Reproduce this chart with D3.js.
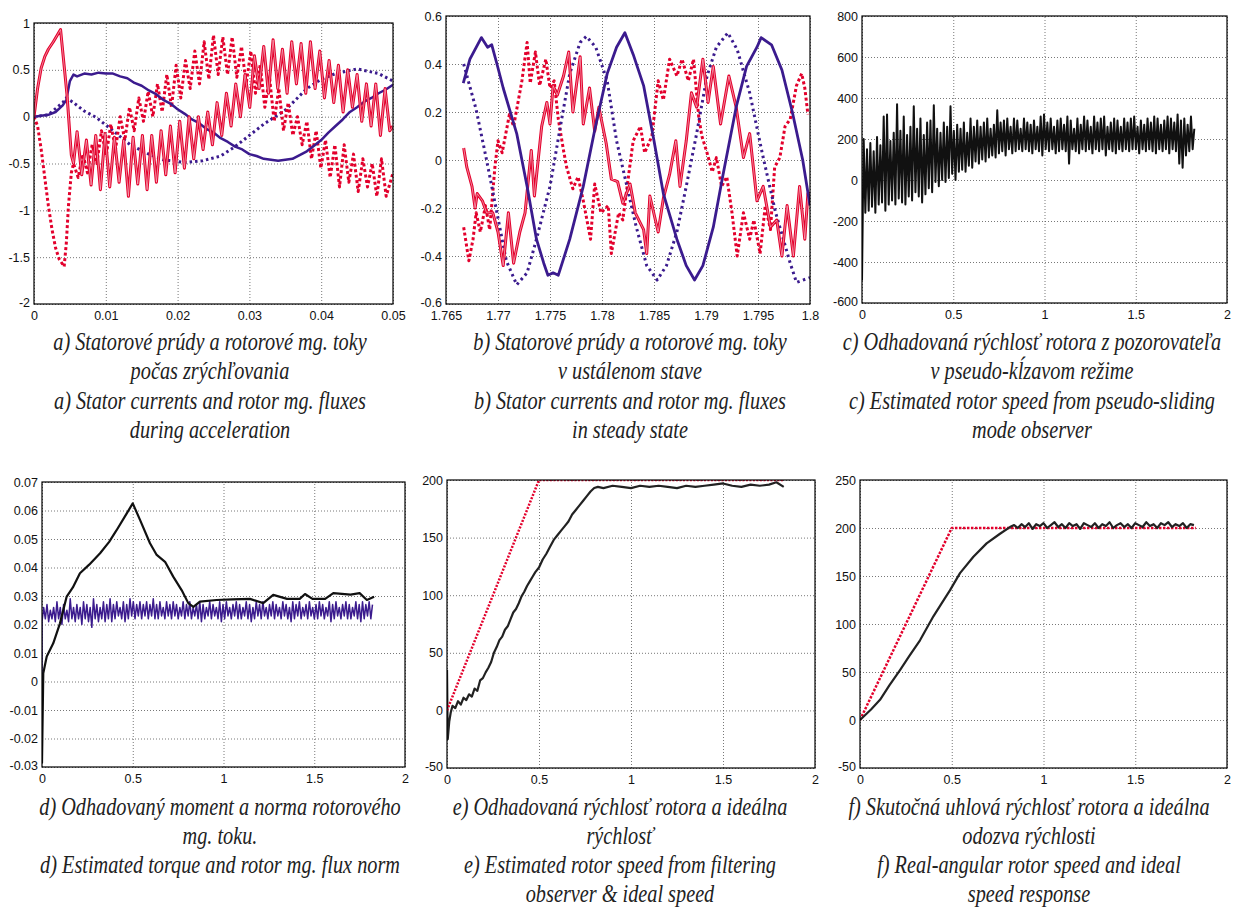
<!DOCTYPE html>
<html>
<head>
<meta charset="utf-8">
<script src="https://cdn.jsdelivr.net/npm/d3@7"></script>
<style>
  body { margin: 0; background: #fff; }
  .tick text { font-family: "Liberation Sans", Arial, sans-serif; font-size: 12.5px; fill: #111; }
</style>
</head>
<body>
<div id="chart"></div>
<script>
// ---------- panel a: stator currents / rotor fluxes during acceleration ----------
const aXTicks = [0, 0.01, 0.02, 0.03, 0.04, 0.05];
const aYTicks = [-2, -1.5, -1, -0.5, 0, 0.5, 1];
const aCurAHead = [[0,0],[0.0005,0.3],[0.001,0.52],[0.0015,0.64],[0.002,0.72],[0.0027,0.8],[0.0037,0.93],[0.0046,0.23],[0.0052,-0.41],[0.0055,-0.5]];
const aCurAStart = 0.006, aCurAStep = 0.00065;
const aCurAOsc = [-0.16,-0.62,-0.25,-0.73,-0.2,-0.78,-0.18,-0.75,-0.22,-0.7,-0.25,-0.85,-0.22,-0.72,-0.2,-0.78,-0.2,-0.7,-0.15,-0.62,-0.1,-0.6,-0.05,-0.55,0.0,
  -0.45,0.0,-0.35,0.05,-0.3,0.15,-0.2,0.25,-0.1,0.35,0.0,0.45,0.1,0.65,0.3,0.75,0.25,0.82,0.3,0.72,0.25,0.8,0.35,0.78,0.25,0.8,0.3,
  0.7,0.2,0.6,0.15,0.55,0.05,0.5,0.1,0.45,-0.05,0.35,-0.1,0.35,-0.2,0.3,-0.15];
const aCurATail = [[0.05,-0.1]];
const aCurBHead = [[0,0],[0.0005,-0.1],[0.001,-0.35],[0.0015,-0.65],[0.002,-0.95],[0.0025,-1.2],[0.003,-1.4],[0.0035,-1.52],[0.0042,-1.6],[0.0045,-1.35],[0.0048,-0.95],[0.0052,-0.6]];
const aCurBStart = 0.0055, aCurBStep = 0.00065;
const aCurBOsc = [-0.5,-0.65,-0.4,-0.6,-0.3,-0.5,-0.15,-0.42,-0.08,-0.35,0.0,-0.25,0.1,-0.15,0.2,-0.05,0.27,0.0,0.35,0.05,0.45,0.1,0.55,0.2,0.6,0.3,
  0.7,0.35,0.8,0.4,0.87,0.45,0.85,0.45,0.85,0.42,0.75,0.35,0.7,0.25,0.55,0.1,0.42,-0.05,0.3,-0.15,0.15,-0.2,0.0,-0.3,-0.05,-0.45,
  -0.15,-0.55,-0.25,-0.65,-0.3,-0.75,-0.3,-0.7,-0.4,-0.8,-0.45,-0.75,-0.5,-0.85,-0.45,-0.85];
const aCurBTail = [[0.05,-0.6]];
const aFluxA = [[0,0],[0.001,0.01],[0.002,0.02],[0.003,0.05],[0.004,0.12],[0.0045,0.18],[0.005,0.38],[0.0055,0.45],[0.006,0.43],[0.007,0.46],[0.008,0.45],
  [0.009,0.47],[0.010,0.46],[0.011,0.46],[0.012,0.43],[0.013,0.41],[0.014,0.36],[0.015,0.33],[0.016,0.28],[0.017,0.24],[0.018,0.18],[0.019,0.14],
  [0.020,0.08],[0.021,0.03],[0.022,-0.03],[0.023,-0.07],[0.024,-0.13],[0.025,-0.17],[0.026,-0.23],[0.027,-0.27],[0.028,-0.32],[0.029,-0.35],
  [0.030,-0.40],[0.031,-0.42],[0.032,-0.45],[0.033,-0.46],[0.034,-0.47],[0.035,-0.46],[0.036,-0.45],[0.037,-0.41],[0.038,-0.37],[0.039,-0.31],
  [0.040,-0.25],[0.041,-0.17],[0.042,-0.10],[0.043,-0.03],[0.044,0.05],[0.045,0.10],[0.046,0.16],[0.047,0.20],[0.048,0.25],[0.049,0.29],[0.05,0.34]];
const aFluxB = [[0,0],[0.002,0.02],[0.004,0.15],[0.0045,0.2],[0.0055,0.15],[0.007,0.06],[0.0087,-0.01],[0.011,-0.15],[0.0134,-0.3],[0.016,-0.4],
  [0.018,-0.46],[0.021,-0.49],[0.0235,-0.47],[0.026,-0.42],[0.028,-0.32],[0.030,-0.2],[0.032,-0.08],[0.035,0.07],[0.038,0.3],[0.040,0.4],
  [0.042,0.46],[0.045,0.51],[0.048,0.46],[0.05,0.38]];

// ---------- panel b: steady state ----------
const bXTicks = [1.765, 1.77, 1.775, 1.78, 1.785, 1.79, 1.795, 1.8];
const bYTicks = [-0.6, -0.4, -0.2, 0, 0.2, 0.4, 0.6];
const bFluxA = [[1.76666,0.32],[1.7673,0.42],[1.7684,0.51],[1.769,0.47],[1.7694,0.48],[1.7699,0.40],[1.7705,0.30],[1.7718,0.11],[1.7728,-0.11],
  [1.7737,-0.33],[1.7744,-0.43],[1.7748,-0.48],[1.7753,-0.47],[1.7758,-0.48],[1.7769,-0.33],[1.7782,-0.11],[1.7793,0.125],[1.7805,0.36],
  [1.7814,0.47],[1.7822,0.53],[1.783,0.44],[1.784,0.31],[1.785,0.08],[1.7859,-0.14],[1.7872,-0.33],[1.7881,-0.44],[1.7889,-0.5],[1.7897,-0.44],
  [1.7907,-0.28],[1.7916,-0.07],[1.7929,0.22],[1.7939,0.39],[1.7949,0.47],[1.7953,0.51],[1.7963,0.48],[1.7973,0.375],[1.7983,0.2],[1.7993,0.0],[1.8,-0.19]];
const bFluxB = [[1.7667,0.4],[1.7679,0.21],[1.7689,0.0],[1.7699,-0.22],[1.7708,-0.42],[1.7718,-0.52],[1.7728,-0.47],[1.7737,-0.33],[1.775,-0.11],
  [1.776,0.14],[1.7769,0.36],[1.7779,0.49],[1.7785,0.515],[1.7794,0.47],[1.7805,0.33],[1.7814,0.08],[1.7824,-0.11],[1.7833,-0.28],[1.7843,-0.44],
  [1.7853,-0.5],[1.7862,-0.44],[1.7872,-0.3],[1.7881,-0.11],[1.7891,0.11],[1.7901,0.35],[1.791,0.47],[1.7921,0.53],[1.793,0.46],[1.7942,0.28],
  [1.7954,0.03],[1.7967,-0.22],[1.7981,-0.43],[1.7987,-0.51],[1.8,-0.49]];
const bCurA = [[1.7667,0.05],[1.767,-0.03],[1.7675,-0.11],[1.7678,-0.2],[1.768,-0.14],[1.7685,-0.17],[1.7689,-0.22],[1.7695,-0.22],[1.77,-0.3],
  [1.7705,-0.44],[1.771,-0.22],[1.7715,-0.43],[1.7721,-0.3],[1.7726,-0.22],[1.7732,0.04],[1.7735,-0.15],[1.7742,0.14],[1.7747,0.24],[1.775,0.15],
  [1.7753,0.31],[1.7757,0.27],[1.7763,0.35],[1.7768,0.45],[1.7772,0.2],[1.7779,0.43],[1.7782,0.15],[1.7788,0.3],[1.7793,0.12],[1.7797,0.22],
  [1.7804,0.07],[1.7809,-0.08],[1.7815,-0.09],[1.782,-0.18],[1.7827,-0.1],[1.7832,-0.22],[1.784,-0.29],[1.7843,-0.39],[1.7846,-0.15],[1.7854,-0.3],
  [1.7859,-0.16],[1.7865,-0.06],[1.7871,0.08],[1.7875,-0.11],[1.7881,0.08],[1.7886,0.28],[1.7891,0.22],[1.7897,0.42],[1.7902,0.24],[1.7907,0.39],
  [1.7914,0.15],[1.7922,0.35],[1.7929,0.22],[1.7936,0.01],[1.7942,0.11],[1.7949,-0.17],[1.7955,-0.11],[1.7962,-0.28],[1.7968,-0.25],[1.7973,-0.4],
  [1.7978,-0.19],[1.7984,-0.4],[1.799,-0.11],[1.7995,-0.33],[1.7998,-0.14],[1.8,-0.14]];
const bCurB = [[1.7667,-0.28],[1.7672,-0.42],[1.7676,-0.33],[1.7679,-0.22],[1.7683,-0.3],[1.7688,-0.19],[1.7692,-0.29],[1.7697,-0.03],[1.77,0.08],
  [1.7704,0.03],[1.7711,0.19],[1.7715,0.14],[1.7723,0.33],[1.7728,0.49],[1.7731,0.32],[1.7736,0.45],[1.774,0.31],[1.7746,0.42],[1.775,0.3],
  [1.7754,0.33],[1.7758,0.17],[1.7763,0.04],[1.7766,-0.03],[1.7772,-0.12],[1.7777,-0.07],[1.7782,-0.17],[1.7789,-0.33],[1.7793,-0.1],[1.7799,-0.22],
  [1.7806,-0.19],[1.7809,-0.39],[1.7816,-0.22],[1.782,-0.25],[1.7826,-0.05],[1.783,0.08],[1.7837,0.14],[1.7841,0.03],[1.7848,0.1],[1.7854,0.33],
  [1.7859,0.25],[1.7865,0.42],[1.7872,0.35],[1.7877,0.42],[1.7883,0.33],[1.7888,0.42],[1.7893,0.18],[1.7896,0.1],[1.7901,0.03],[1.7906,-0.05],
  [1.791,0.01],[1.7915,-0.11],[1.792,-0.07],[1.7925,-0.22],[1.793,-0.4],[1.7936,-0.22],[1.7942,-0.33],[1.7946,-0.25],[1.7952,-0.39],[1.7957,-0.19],
  [1.7962,-0.29],[1.7966,-0.03],[1.7971,0.01],[1.7976,0.14],[1.7981,0.17],[1.7987,0.31],[1.7992,0.36],[1.7995,0.3],[1.7998,0.19]];

// ---------- panel c: estimated speed, pseudo-sliding observer (upper / lower noise peaks) ----------
const cXTicks = [0, 0.5, 1, 1.5, 2];
const cYTicks = [-600, -400, -200, 0, 200, 400, 600, 800];
const cStep = 0.0183;
const cHigh = [200,150,180,140,210,170,310,320,190,230, 370,240,310,220,260,360,250,300,220,280,
  290,365,250,230,280,260,360,240,270,250, 280,230,300,260,290,260,280,300,250,270,
  340,280,290,300,260,300,290,250,300,280, 270,290,260,310,320,280,300,260,290,300,
  270,310,290,250,300,270,310,290,260,310, 280,300,310,260,280,300,290,260,300,280,
  300,310,260,290,270,300,280,310,300,270, 290,310,300,280,320,290,300,270,310,250];
const cLow = [-490,-160,-150,-130,-160,-120,-110,-150,-120,-100, -120,-90,-110,-120,-80,-100,-60,-80,-110,-70,
  -40,-60,-10,-30,0,-10,10,30,0,40, 50,40,70,60,90,80,100,90,110,120,
  110,130,140,120,150,130,140,150,140,150, 140,130,150,140,120,150,140,150,130,140,
  150,140,80,150,140,130,150,140,150,130, 150,140,150,120,150,140,130,150,140,150,
  140,150,150,130,150,140,150,140,130,150, 140,150,130,150,140,80,60,120,140,150];

// ---------- panel d: torque and flux norm ----------
const dXTicks = [0, 0.5, 1, 1.5, 2];
const dYTicks = [-0.03, -0.02, -0.01, 0, 0.01, 0.02, 0.03, 0.04, 0.05, 0.06, 0.07];
const dTorque = [[0,-0.0286],[0.007,0.0029],[0.026,0.0088],[0.062,0.0134],[0.099,0.0204],[0.136,0.0298],[0.17,0.033],[0.209,0.038],[0.26,0.041],
  [0.32,0.045],[0.37,0.049],[0.41,0.053],[0.467,0.059],[0.5,0.0625],[0.54,0.0567],[0.595,0.0485],[0.632,0.0444],[0.678,0.042],[0.723,0.0368],
  [0.77,0.032],[0.806,0.0275],[0.834,0.0262],[0.87,0.028],[0.962,0.0286],[1.05,0.0288],[1.146,0.029],[1.219,0.0275],[1.274,0.0304],[1.35,0.029],
  [1.42,0.029],[1.449,0.0307],[1.49,0.029],[1.56,0.029],[1.605,0.031],[1.7,0.0305],[1.75,0.031],[1.79,0.0286],[1.83,0.0297]];
const dStep = 0.0183;
const dFluxHigh = [0.026,0.027,0.025,0.026,0.028,0.026,0.027,0.025,0.029,0.026, 0.027,0.026,0.028,0.027,0.026,0.029,0.027,0.026,0.028,0.027,
  0.029,0.027,0.028,0.026,0.028,0.027,0.029,0.028,0.027,0.028, 0.027,0.028,0.027,0.029,0.027,0.028,0.026,0.028,0.027,0.028,
  0.027,0.026,0.028,0.027,0.028,0.026,0.027,0.028,0.027,0.026, 0.028,0.027,0.026,0.028,0.027,0.028,0.026,0.027,0.028,0.027,
  0.026,0.028,0.027,0.026,0.028,0.027,0.028,0.026,0.027,0.028, 0.027,0.026,0.028,0.027,0.026,0.028,0.027,0.028,0.026,0.027,
  0.028,0.026,0.027,0.028,0.027,0.026,0.028,0.027,0.028,0.026, 0.027,0.028,0.027,0.026,0.028,0.027,0.028,0.027,0.028,0.027];
const dFluxLow = [0.021,0.022,0.021,0.022,0.021,0.022,0.020,0.022,0.021,0.022, 0.021,0.022,0.020,0.022,0.021,0.019,0.022,0.021,0.022,0.021,
  0.022,0.021,0.022,0.023,0.022,0.021,0.022,0.023,0.022,0.023, 0.022,0.023,0.022,0.023,0.022,0.022,0.023,0.022,0.023,0.022,
  0.023,0.022,0.023,0.022,0.023,0.022,0.023,0.022,0.021,0.022, 0.023,0.022,0.023,0.022,0.021,0.022,0.023,0.022,0.023,0.022,
  0.022,0.023,0.022,0.021,0.022,0.023,0.022,0.023,0.022,0.023, 0.022,0.023,0.022,0.023,0.022,0.021,0.022,0.023,0.022,0.023,
  0.022,0.023,0.022,0.022,0.023,0.022,0.023,0.021,0.022,0.023, 0.022,0.023,0.022,0.022,0.023,0.022,0.021,0.022,0.023,0.022];

// ---------- panel e: estimated speed (filtering observer) and ideal speed ----------
const eXTicks = [0, 0.5, 1, 1.5, 2];
const eYTicks = [-50, 0, 50, 100, 150, 200];
const eIdeal = [[0,0],[0.5,200],[1.83,200]];
const eSpeed = [[0,35],[0.004,-25],[0.012,-10],[0.02,-2],[0.03,4],[0.045,2],[0.06,8],[0.075,5],[0.09,11],[0.105,9],[0.12,14],[0.135,12],
  [0.15,19],[0.165,17],[0.18,26],[0.195,28],[0.21,33],[0.225,37],[0.24,42],[0.255,50],[0.27,55],[0.285,61],[0.3,64],[0.315,70],[0.33,73],
  [0.345,79],[0.36,85],[0.375,88],[0.39,93],[0.405,99],[0.42,103],[0.435,108],[0.45,112],[0.465,116],[0.48,120],[0.5,124],[0.52,131],
  [0.54,136],[0.56,142],[0.58,148],[0.6,152],[0.62,156],[0.64,160],[0.66,164],[0.68,170],[0.7,174],[0.72,178],[0.74,182],[0.76,186],
  [0.78,190],[0.8,193],[0.82,194],[0.85,193],[0.9,195],[0.95,194],[1.0,193],[1.05,195],[1.1,194],[1.15,195],[1.2,194],[1.25,193],
  [1.3,195],[1.35,194],[1.4,195],[1.45,196],[1.5,197],[1.55,195],[1.6,194],[1.65,196],[1.7,195],[1.75,196],[1.79,198],[1.83,194]];

// ---------- panel f: real speed and ideal response ----------
const fXTicks = [0, 0.5, 1, 1.5, 2];
const fYTicks = [-50, 0, 50, 100, 150, 200, 250];
const fIdeal = [[0,0],[0.5,200],[1.83,200]];
const fSpeedRise = [[0,0],[0.027,5],[0.06,11],[0.109,21],[0.16,36],[0.218,52],[0.27,67],[0.327,83],[0.4,108],[0.45,123],[0.49,135],
  [0.545,153],[0.618,170],[0.69,184],[0.763,194],[0.817,201]];
const fSteadyStart = 0.84, fSteadyStep = 0.02;
const fSteady = [203,200,204,201,205,199,204,202,205,200, 203,206,201,204,200,205,202,204,199,205, 203,201,205,200,204,202,206,200,203,205,
  201,204,200,205,203,201,206,202,204,200, 205,203,206,201,204,202,205,200,204,203];

// ---------- captions ----------
const captionsTop = [
  ["a) Statorové prúdy a rotorové mg. toky", "počas zrýchľovania", "a) Stator currents and rotor mg. fluxes", "during acceleration"],
  ["b) Statorové prúdy a rotorové mg. toky", "v ustálenom stave", "b) Stator currents and rotor mg. fluxes", "in steady state"],
  ["c) Odhadovaná rýchlosť rotora z pozorovateľa", "v pseudo-kĺzavom režime", "c) Estimated rotor speed from pseudo-sliding", "mode observer"]
];
const captionsBottom = [
  ["d) Odhadovaný moment a norma rotorového", "mg. toku.", "d) Estimated torque and rotor mg. flux norm"],
  ["e) Odhadovaná rýchlosť rotora a ideálna", "rýchlosť", "e) Estimated rotor speed from filtering", "observer & ideal speed"],
  ["f) Skutočná uhlová rýchlosť rotora a ideálna", "odozva rýchlosti", "f) Real-angular rotor speed and ideal", "speed response"]
];

const RED = '#e3002c', BLUE = '#3b1b8e', BLACK = '#111';

const width = 1235, height = 908;
const svg = d3.select('#chart').append('svg')
  .attr('width', width)
  .attr('height', height)
  .style('display', 'block');
svg.append('rect').attr('width', width).attr('height', height).attr('fill', '#fff');

function sampled(start, step, values) {
  return values.map((v, i) => [start + i * step, v]);
}
function interleave(step, low, high) {
  const out = [];
  low.forEach((v, i) => {
    out.push([i * step, v]);
    out.push([i * step + step / 2, high[i]]);
  });
  return out;
}

let clipId = 0;
function drawPanel(box, xTicks, yTicks, series) {
  const x = d3.scaleLinear().domain([xTicks[0], xTicks[xTicks.length - 1]]).range([box.left, box.right]);
  const y = d3.scaleLinear().domain([yTicks[0], yTicks[yTicks.length - 1]]).range([box.bottom, box.top]);
  const g = svg.append('g');
  const h = box.bottom - box.top, w = box.right - box.left;

  const id = 'clip' + (clipId++);
  g.append('clipPath').attr('id', id)
    .append('rect').attr('x', box.left).attr('y', box.top).attr('width', w).attr('height', h);

  const xAxis = g.append('g')
    .attr('transform', 'translate(0,' + box.bottom + ')')
    .call(d3.axisBottom(x).tickValues(xTicks).tickFormat(String).tickSize(-h).tickPadding(7));
  const yAxis = g.append('g')
    .attr('transform', 'translate(' + box.left + ',0)')
    .call(d3.axisLeft(y).tickValues(yTicks).tickFormat(String).tickSize(-w).tickPadding(4));
  [xAxis, yAxis].forEach(a => {
    a.select('.domain').remove();
    a.selectAll('.tick line')
      .attr('stroke', '#555')
      .attr('stroke-width', 0.8)
      .attr('stroke-dasharray', '1,2');
  });
  // keep the lowest y label clear of the first x label
  yAxis.selectAll('.tick text').filter(d => d === yTicks[0]).attr('dy', '0.2em');

  const line = d3.line().x(d => x(d[0])).y(d => y(d[1]));
  const plot = g.append('g').attr('clip-path', 'url(#' + id + ')');
  series.forEach(s => {
    plot.append('path')
      .attr('d', line(s.data))
      .attr('fill', 'none')
      .attr('stroke', s.color)
      .attr('stroke-width', s.width)
      .attr('stroke-linejoin', 'round')
      .attr('stroke-dasharray', s.dash || null);
    if (s.core) {
      plot.append('path')
        .attr('d', line(s.data))
        .attr('fill', 'none')
        .attr('stroke', s.core)
        .attr('stroke-width', 0.7)
        .attr('stroke-linejoin', 'round');
    }
  });

  g.append('rect')
    .attr('x', box.left).attr('y', box.top).attr('width', w).attr('height', h)
    .attr('fill', 'none').attr('stroke', '#000').attr('stroke-width', 1.2);
}

drawPanel({ left: 34, right: 393, top: 23, bottom: 304 }, aXTicks, aYTicks, [
  { data: aFluxB, color: BLUE, width: 3, dash: '2.5,3' },
  { data: aCurBHead.concat(sampled(aCurBStart, aCurBStep, aCurBOsc), aCurBTail), color: RED, width: 3, dash: '3,2.5' },
  { data: aFluxA, color: BLUE, width: 2.5 },
  { data: aCurAHead.concat(sampled(aCurAStart, aCurAStep, aCurAOsc), aCurATail), color: RED, width: 3, core: '#f6b9c6' }
]);

drawPanel({ left: 446, right: 810, top: 16, bottom: 304 }, bXTicks, bYTicks, [
  { data: bCurB, color: RED, width: 3, dash: '3,2.5' },
  { data: bFluxB, color: BLUE, width: 3, dash: '2.5,3.5' },
  { data: bCurA, color: RED, width: 3, core: '#f6b9c6' },
  { data: bFluxA, color: BLUE, width: 2.8 }
]);

drawPanel({ left: 862, right: 1227, top: 16, bottom: 303 }, cXTicks, cYTicks, [
  { data: interleave(cStep, cLow, cHigh), color: BLACK, width: 2 }
]);

drawPanel({ left: 42, right: 405, top: 482, bottom: 767 }, dXTicks, dYTicks, [
  { data: [[0, 0]].concat(interleave(dStep, dFluxLow, dFluxHigh)), color: BLUE, width: 1.5 },
  { data: dTorque, color: BLACK, width: 2.2 }
]);

drawPanel({ left: 447, right: 815, top: 480, bottom: 768 }, eXTicks, eYTicks, [
  { data: eSpeed, color: '#222', width: 2.2 },
  { data: eIdeal, color: RED, width: 2.5, dash: '2,1.5' }
]);

drawPanel({ left: 860, right: 1227, top: 480, bottom: 768 }, fXTicks, fYTicks, [
  { data: fIdeal, color: RED, width: 2.5, dash: '2.5,1.5' },
  { data: fSpeedRise.concat(sampled(fSteadyStart, fSteadyStep, fSteady)), color: '#222', width: 2.2 }
]);

// captions
const capScale = 0.78;
function drawCaptions(blocks, centers, base, gap) {
  blocks.forEach((lines, k) => {
    lines.forEach((txt, i) => {
      svg.append('text')
        .attr('font-family', "'Liberation Serif', 'Times New Roman', serif")
        .attr('font-style', 'italic')
        .attr('font-size', 26)
        .attr('fill', '#222')
        .attr('text-anchor', 'middle')
        .attr('transform', 'translate(' + centers[k] + ',' + (base + i * gap) + ') scale(' + capScale + ',1)')
        .text(txt);
    });
  });
}
drawCaptions(captionsTop, [210, 630, 1032], 350, 29.3);
drawCaptions(captionsBottom, [220, 620, 1029], 815, 29);
</script>
</body>
</html>
